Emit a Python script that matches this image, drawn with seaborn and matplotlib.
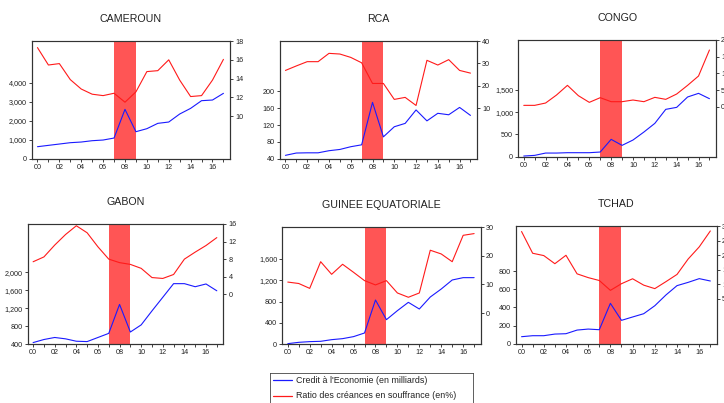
import matplotlib
matplotlib.use("Agg")
import matplotlib.pyplot as plt
import matplotlib.ticker as mticker
import numpy as np
import pandas as pd
import seaborn as sns

sns.set_style("ticks")
plt.rcParams["font.family"] = ["Liberation Sans", "DejaVu Sans"]

years = list(range(2000, 2018))
countries = ["CAMEROUN", "RCA", "CONGO", "GABON", "GUINEE EQUATORIALE", "TCHAD"]

# Crédit à l'économie (milliards)
credit_cameroun = [634, 705, 775, 846, 881, 951, 987, 1092, 2608, 1427, 1586, 1868, 1938, 2361, 2660, 3066, 3101, 3454]
credit_rca = [48, 53.5, 54, 54, 59, 62, 68.5, 73, 174, 92, 116, 124, 156, 130, 148, 144.5, 162, 143]
credit_congo = [15, 30, 82, 82, 90, 90, 90, 105, 390, 255, 375, 555, 750, 1065, 1110, 1343, 1425, 1305]
credit_gabon = [438, 506, 551, 521, 468, 460, 551, 642, 1283, 672, 830, 1140, 1441, 1743, 1743, 1675, 1736, 1585]
credit_guinee = [12, 37, 50, 56, 87, 106, 144, 212, 831, 462, 631, 787, 662, 887, 1037, 1206, 1250, 1250]
credit_tchad = [77, 88, 88, 106, 110, 150, 161, 154, 444, 257, 294, 330, 418, 536, 639, 675, 716, 690]

# Ratio des créances en souffrance (%)
ratio_cameroun = [17.3, 15.45, 15.6, 13.9, 12.9, 12.35, 12.2, 12.45, 11.5, 12.6, 14.75, 14.85, 16.0, 13.85, 12.1, 12.2, 13.85, 16.05]
ratio_rca = [26.9, 28.9, 30.8, 30.8, 34.5, 34.2, 32.7, 30.3, 21.1, 21.1, 14.0, 14.9, 11.3, 31.4, 29.3, 31.7, 26.9, 25.7]
ratio_congo = [0.4, 0.4, 1.1, 3.5, 6.4, 3.3, 1.3, 2.7, 1.5, 1.5, 2.0, 1.5, 2.8, 2.2, 3.8, 6.4, 9.2, 17.0]
ratio_gabon = [7.4, 8.5, 11.2, 13.6, 15.6, 14.0, 10.8, 8.0, 7.2, 6.8, 5.9, 3.8, 3.6, 4.5, 8.0, 9.6, 11.1, 12.9]
ratio_guinee = [10.8, 10.3, 8.6, 17.9, 13.5, 17.0, 14.2, 11.3, 9.8, 11.3, 7.0, 5.5, 7.0, 21.9, 20.6, 17.9, 27.1, 27.7]
ratio_tchad = [28.2, 20.7, 19.9, 17.1, 20.0, 13.6, 12.3, 11.3, 7.9, 10.2, 11.9, 9.7, 8.5, 10.9, 13.4, 18.7, 22.9, 28.4]

credits = [credit_cameroun, credit_rca, credit_congo, credit_gabon, credit_guinee, credit_tchad]
ratios = [ratio_cameroun, ratio_rca, ratio_congo, ratio_gabon, ratio_guinee, ratio_tchad]

crisis_start, crisis_end = 2007, 2009

rows = []
for c, cr, ra in zip(countries, credits, ratios):
    for y, a, b in zip(years, cr, ra):
        rows.append({"pays": c, "annee": y, "credit": a, "ratio": b})
df = pd.DataFrame(rows)

# panel geometry in pixels: left, right, top, bottom
W, H = 724, 403
panels = {
    "CAMEROUN": (32, 230, 41, 158.7),
    "RCA": (280, 477, 41, 158.7),
    "CONGO": (518.3, 716, 40, 156.7),
    "GABON": (27.7, 223.3, 224, 344.3),
    "GUINEE EQUATORIALE": (282.3, 480.7, 227, 344.3),
    "TCHAD": (516, 717, 226.3, 343.7),
}
# axis scales: (left ylim, left ticks, right ylim, right ticks)
scales = {
    "CAMEROUN": ((0, 6220), np.arange(0, 4001, 1000), (5.5, 18), np.arange(10, 19, 2)),
    "RCA": ((40, 320), np.arange(40, 201, 40), (-12.4, 40), np.arange(10, 41, 10)),
    "CONGO": ((0, 2625), np.arange(0, 1501, 500), (-15, 20), np.arange(0, 21, 5)),
    "GABON": ((400, 3064), np.arange(400, 2001, 400), (-11.4, 16), np.arange(0, 17, 4)),
    "GUINEE EQUATORIALE": ((0, 2200), np.arange(0, 1601, 400), (-10.9, 30), np.arange(0, 31, 10)),
    "TCHAD": ((0, 1292), np.arange(0, 801, 200), (-10.5, 30), np.arange(5, 31, 5)),
}

BLUE = "#1a1aff"
RED = "#ff1a1a"
BAND = "#ff5555"
TICK_FS = 5.2

fig = plt.figure(figsize=(W / 100, H / 100), dpi=100)
fig.patch.set_facecolor("white")

for c in countries:
    l, r, t, b = panels[c]
    ax = fig.add_axes([l / W, 1 - b / H, (r - l) / W, (b - t) / H])
    ax2 = ax.twinx()
    sub = df[df["pays"] == c]
    ylim_l, ticks_l, ylim_r, ticks_r = scales[c]

    ax.axvspan(crisis_start, crisis_end, color=BAND, lw=0, zorder=0)
    sns.lineplot(data=sub, x="annee", y="credit", ax=ax, color=BLUE, lw=0.8, zorder=3)
    sns.lineplot(data=sub, x="annee", y="ratio", ax=ax2, color=RED, lw=0.8, zorder=3)

    ax.set_xlim(1999.5, 2017.6)
    ax.set_ylim(*ylim_l)
    ax2.set_ylim(*ylim_r)
    ax.set_yticks(ticks_l)
    ax2.set_yticks(ticks_r)
    ax.yaxis.set_major_formatter(mticker.FuncFormatter(lambda v, p: f"{int(v):,}"))
    ax2.yaxis.set_major_formatter(mticker.FuncFormatter(lambda v, p: f"{int(v)}"))
    ax.set_xticks(years)
    ax.set_xticklabels([f"{y % 100:02d}" if y % 2 == 0 else "" for y in years])

    for a in (ax, ax2):
        a.set_xlabel("")
        a.set_ylabel("")
        a.tick_params(labelsize=TICK_FS, length=2.5, width=0.6, pad=1.2, colors="#222222")
        for s in a.spines.values():
            s.set_linewidth(0.8)
            s.set_color("#333333")
    ax.spines["top"].set_color("#777777")
    ax.set_title(c, fontsize=7.7, pad=14, color="#222222")

# legend box below the panels
lax = fig.add_axes([270 / W, 0, 203 / W, (H - 372.5) / H])
lax.set_xlim(0, 1)
lax.set_ylim(0, 1)
lax.set_xticks([])
lax.set_yticks([])
for s in lax.spines.values():
    s.set_linewidth(0.6)
    s.set_color("#444444")
lax.spines["bottom"].set_visible(False)
legend_items = [("Credit à l'Economie (en milliards)", BLUE), ("Ratio des créances en souffrance (en%)", RED)]
for i, (lab, col) in enumerate(legend_items):
    yy = 0.74 - i * 0.5
    lax.plot([0.015, 0.11], [yy, yy], color=col, lw=0.9)
    lax.text(0.13, yy, lab, fontsize=6.4, va="center", ha="left", color="#222222")

fig.savefig("out.png", dpi=100)
